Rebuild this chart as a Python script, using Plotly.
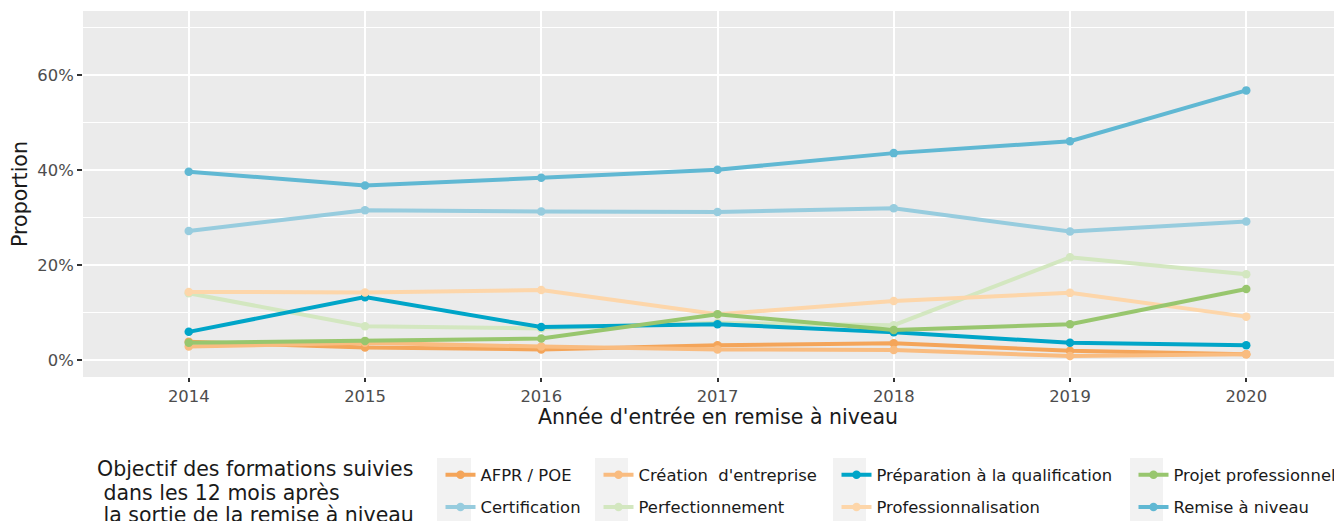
import plotly.graph_objects as go

years = [2014, 2015, 2016, 2017, 2018, 2019, 2020]

categories = [
    "AFPR / POE",
    "Certification",
    "Création\u00a0 d'entreprise",
    "Perfectionnement",
    "Préparation à la qualification",
    "Professionnalisation",
    "Projet professionnel",
    "Remise à niveau",
]

afpr_poe = [3.9, 2.7, 2.3, 3.2, 3.6, 2.0, 1.3]
certification = [27.2, 31.6, 31.3, 31.2, 32.0, 27.1, 29.2]
creation_entreprise = [2.9, 3.7, 2.9, 2.3, 2.2, 0.9, 1.3]
perfectionnement = [14.1, 7.2, 6.7, 7.9, 7.4, 21.7, 18.1]
preparation_qualif = [6.0, 13.3, 7.0, 7.6, 5.9, 3.7, 3.2]
professionnalisation = [14.4, 14.3, 14.8, 9.7, 12.5, 14.2, 9.2]
projet_pro = [3.7, 4.1, 4.6, 9.7, 6.4, 7.6, 15.0]
remise_niveau = [39.7, 36.8, 38.4, 40.1, 43.6, 46.1, 56.8]

y_tick_vals = [0, 20, 40, 60]
y_tick_text = ["0%", "20%", "40%", "60%"]
y_minor_vals = [10, 30, 50, 70]

series = [afpr_poe, certification, creation_entreprise, perfectionnement,
          preparation_qualif, professionnalisation, projet_pro, remise_niveau]

colors = ["#F4A55A", "#97CCDE", "#F9BC80", "#D3E7C0",
          "#00A5C8", "#FDD6AA", "#98C66E", "#60B8D3"]

# legend columns (column-major, 2 rows)
legend_ids = ["legend", "legend", "legend2", "legend2",
              "legend3", "legend3", "legend4", "legend4"]

FONT = "DejaVu Sans"

fig = go.Figure()
for i, (name, vals) in enumerate(zip(categories, series)):
    fig.add_trace(go.Scatter(
        x=years, y=vals, name=name, mode="lines+markers",
        line=dict(color=colors[i], width=4),
        marker=dict(color=colors[i], size=8.5),
        legend=legend_ids[i], legendgroup=name,
    ))

# page has an 8px body margin: figure is placed at (8, 8); the figure is
# made larger than the window (the window crops it, like the reference)
OFF = 8
W, H = 1352 - OFF, 580 - OFF
L, T = 83 - OFF, 11 - OFF
R = 0
B = H - (377 - OFF)
pw = W - L - R
ph = H - T - B

def px2x(px):  # px in reference-image coordinates -> paper
    return (px - OFF - L) / pw

def px2y(py):
    return (H - B - (py - OFF)) / ph

legend_common = dict(
    orientation="v", xanchor="left", yanchor="top",
    font=dict(family=FONT, size=16.4, color="#1a1a1a"),
    bgcolor="rgba(0,0,0,0)", traceorder="grouped", tracegroupgap=8,
    itemwidth=30,
)
leg_x = [440.5, 598.5, 836.5, 1133.5]
leg_y = px2y(457.5)

layout_legends = {}
for k, lid in enumerate(["legend", "legend2", "legend3", "legend4"]):
    layout_legends[lid] = dict(legend_common, x=px2x(leg_x[k]), y=leg_y)

fig.update_layout(
    width=W, height=H,
    margin=dict(l=L, r=R, t=T, b=B),
    paper_bgcolor="white",
    plot_bgcolor="#EBEBEB",
    font=dict(family=FONT, color="#1a1a1a"),
    showlegend=True,
    **layout_legends,
)

# legend key backgrounds
key_boxes = [(437, 471), (595, 628), (833, 866), (1130, 1163)]
for x0, x1 in key_boxes:
    fig.add_shape(type="rect", xref="paper", yref="paper",
                  x0=px2x(x0), x1=px2x(x1), y0=px2y(458), y1=px2y(524),
                  fillcolor="#F2F2F2", line=dict(width=0), layer="below")

fig.update_xaxes(
    range=[2013.4, 2020.6],
    tickmode="array", tickvals=years, ticktext=[str(y) for y in years],
    showgrid=True, gridcolor="white", gridwidth=2,
    zeroline=False, showline=False,
    ticks="outside", ticklen=4, tickcolor="#333333", tickwidth=2,
    tickfont=dict(family=FONT, size=16.4, color="#4D4D4D"),
    automargin=False,
)
fig.update_yaxes(
    range=[-3.5, 73.5],
    tickmode="array", tickvals=y_tick_vals, ticktext=y_tick_text,
    showgrid=True, gridcolor="white", gridwidth=2,
    minor=dict(tickmode="array", tickvals=y_minor_vals, showgrid=True,
               gridcolor="white", gridwidth=1, ticks=""),
    zeroline=False, showline=False,
    ticks="outside", ticklen=5, tickcolor="#333333", tickwidth=2,
    tickfont=dict(family=FONT, size=16.4, color="#4D4D4D"),
    title=dict(text="Proportion", font=dict(family=FONT, size=20.5, color="#1a1a1a"),
               standoff=4),
    automargin=False,
)

# x axis title centered on the panel
fig.add_annotation(
    x=0.5, xref="paper", y=px2y(417), yref="paper",
    text="Année d'entrée en remise à niveau", showarrow=False,
    font=dict(family=FONT, size=20.5, color="#1a1a1a"),
    xanchor="center", yanchor="middle",
)

# legend title lines
title_lines = ["Objectif des formations suivies",
               "\u00a0dans les 12 mois après",
               "\u00a0la sortie de la remise à niveau"]
title_y = [469, 492.5, 515]
for line, ty in zip(title_lines, title_y):
    fig.add_annotation(
        x=px2x(95), xref="paper", y=px2y(ty), yref="paper",
        text=line, showarrow=False, xanchor="left", yanchor="middle",
        font=dict(family=FONT, size=20.5, color="#1a1a1a"),
    )

fig.write_html("out.html")
